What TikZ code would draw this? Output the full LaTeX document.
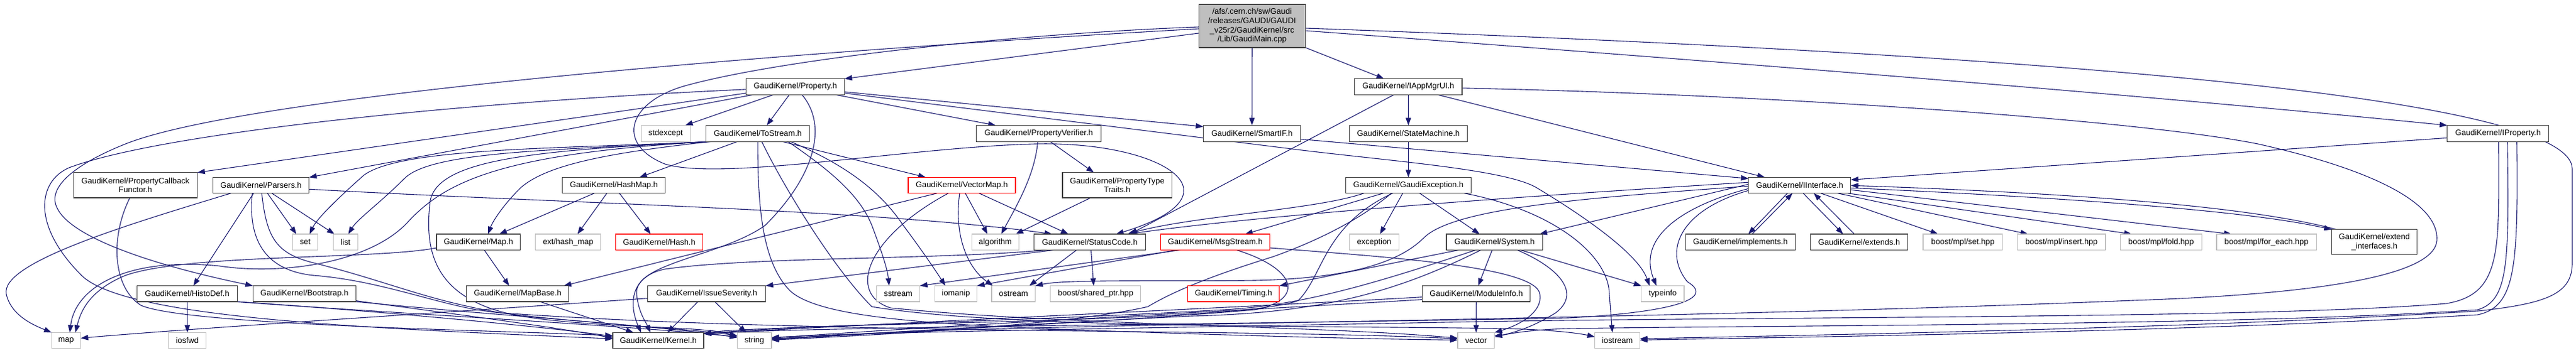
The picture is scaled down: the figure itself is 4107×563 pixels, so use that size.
\documentclass[tikz,border=0pt]{standalone}
\usepackage{fontspec}
\setmainfont{Liberation Sans}
\usetikzlibrary{arrows.meta}
\definecolor{edgecol}{HTML}{191970}
\definecolor{boxblack}{HTML}{404040}
\definecolor{boxgray}{HTML}{BFBFBF}
\definecolor{mainfill}{HTML}{BFBFBF}
\pgfdeclarelayer{bg}
\pgfdeclarelayer{edges}
\pgfsetlayers{bg,edges,main}
\newcommand{\nodefont}{\fontsize{12.8pt}{14.6pt}\selectfont}
\begin{document}
\begin{tikzpicture}[x=1pt,y=-1pt,
  box/.style={draw=boxblack, fill=white, line width=1.1pt, inner sep=0pt, outer sep=0pt, font=\nodefont, align=center, minimum height=25.4pt},
  gbox/.style={box, draw=boxgray},
  rbox/.style={box, draw=red},
  edg/.style={draw=edgecol, line width=1.1pt, -{Triangle[length=12pt,width=8.5pt]}},
]
\useasboundingbox (0,0) rectangle (4107,563);
\begin{pgfonlayer}{bg}
\fill[white] (0,0) rectangle (4107,563);
\end{pgfonlayer}

% ---------------- nodes ----------------
\node[box, fill=mainfill, minimum width=170pt, minimum height=69pt] (main) at (1996.2,41.5) {/afs/.cern.ch/sw/Gaudi\\/releases/GAUDI/GAUDI\\\_v25r2/GaudiKernel/src\\/Lib/GaudiMain.cpp};
\node[box, minimum width=157pt] (prop) at (1268,138.5) {GaudiKernel/Property.h};
\node[box, minimum width=171.4pt] (appmgr) at (2245.3,138.5) {GaudiKernel/IAppMgrUI.h};
\node[gbox, minimum width=78.5pt, minimum height=26pt] (stdexcept) at (1061.3,213.3) {stdexcept};
\node[box, minimum width=165.2pt, minimum height=26pt] (tostream) at (1208.1,213.3) {GaudiKernel/ToStream.h};
\node[box, minimum width=199pt, minimum height=26pt] (pverif) at (1656,213.3) {GaudiKernel/PropertyVerifier.h};
\node[box, minimum width=155pt, minimum height=26pt] (smartif) at (1996,213.3) {GaudiKernel/SmartIF.h};
\node[box, minimum width=188.4pt, minimum height=26pt] (statem) at (2245.4,213.3) {GaudiKernel/StateMachine.h};
\node[box, minimum width=162pt, minimum height=26pt] (iprop) at (3982.7,213.3) {GaudiKernel/IProperty.h};
\node[box, minimum width=197.7pt, minimum height=40.3pt] (pcf) at (215.9,295.8) {GaudiKernel/PropertyCallback\\Functor.h};
\node[box, minimum width=153.6pt] (parsers) at (416.1,296) {GaudiKernel/Parsers.h};
\node[box, minimum width=164.3pt] (hashmap) at (978.7,296) {GaudiKernel/HashMap.h};
\node[rbox, minimum width=171pt] (vmap) at (1533.5,296) {GaudiKernel/VectorMap.h};
\node[box, minimum width=174.5pt, minimum height=40.3pt] (ptt) at (1781.2,295.8) {GaudiKernel/PropertyType\\Traits.h};
\node[box, minimum width=200pt] (gexc) at (2245.4,296) {GaudiKernel/GaudiException.h};
\node[box, minimum width=163pt] (iint) at (2869.3,296) {GaudiKernel/IInterface.h};
\node[gbox, minimum width=40.2pt] (set) at (486.6,386.7) {set};
\node[gbox, minimum width=39.3pt] (list) at (550.9,386.7) {list};
\node[box, minimum width=133.6pt] (maph) at (762.8,386.7) {GaudiKernel/Map.h};
\node[gbox, minimum width=104pt] (exthash) at (905.7,386.7) {ext/hash\_map};
\node[rbox, minimum width=139.3pt] (hash) at (1051,386.7) {GaudiKernel/Hash.h};
\node[gbox, minimum width=75pt] (algo) at (1586.8,386.7) {algorithm};
\node[box, minimum width=178.1pt] (scode) at (1737.5,386.7) {GaudiKernel/StatusCode.h};
\node[rbox, minimum width=174.5pt] (msgs) at (1937.5,386.7) {GaudiKernel/MsgStream.h};
\node[gbox, minimum width=79.4pt] (except) at (2190.9,386.7) {exception};
\node[box, minimum width=153.6pt] (system) at (2382.8,386.7) {GaudiKernel/System.h};
\node[box, minimum width=174.7pt] (impl) at (2774.7,386.7) {GaudiKernel/implements.h};
\node[box, minimum width=155pt] (extends) at (2964,386.7) {GaudiKernel/extends.h};
\node[gbox, minimum width=126.8pt] (mset) at (3129.4,386.7) {boost/mpl/set.hpp};
\node[gbox, minimum width=140.6pt] (minsert) at (3286.7,386.7) {boost/mpl/insert.hpp};
\node[gbox, minimum width=129.3pt] (mfold) at (3445.4,386.7) {boost/mpl/fold.hpp};
\node[gbox, minimum width=159.1pt] (mforeach) at (3613.5,386.7) {boost/mpl/for\_each.hpp};
\node[box, minimum width=136.2pt, minimum height=40pt] (extif) at (3785.5,386.7) {GaudiKernel/extend\\\_interfaces.h};
\node[box, minimum width=160.3pt] (histo) at (298.4,469.3) {GaudiKernel/HistoDef.h};
\node[box, minimum width=164.3pt] (boot) at (485.3,469.3) {GaudiKernel/Bootstrap.h};
\node[box, minimum width=163pt] (mapbase) at (825.3,469.3) {GaudiKernel/MapBase.h};
\node[box, minimum width=188pt] (issue) at (1126.7,469.3) {GaudiKernel/IssueSeverity.h};
\node[gbox, minimum width=69.2pt] (sstream) at (1432.1,469.3) {sstream};
\node[gbox, minimum width=67.4pt] (iomanip) at (1524.1,469.3) {iomanip};
\node[gbox, minimum width=69.6pt] (ostream) at (1615.8,469.3) {ostream};
\node[gbox, minimum width=144.2pt] (sptr) at (1746.8,469.3) {boost/shared\_ptr.hpp};
\node[rbox, minimum width=146.4pt] (timing) at (1966.7,469.3) {GaudiKernel/Timing.h};
\node[box, minimum width=172pt] (modinfo) at (2353.7,469.3) {GaudiKernel/ModuleInfo.h};
\node[gbox, minimum width=68.2pt] (typeinfo) at (2650.9,469.3) {typeinfo};
\node[gbox, minimum width=46.4pt] (mapn) at (105.4,544) {map};
\node[gbox, minimum width=59.8pt] (iosfwd) at (298.7,544) {iosfwd};
\node[box, minimum width=145pt] (kernel) at (1049.5,544) {GaudiKernel/Kernel.h};
\node[gbox, minimum width=54.5pt] (string) at (1202.7,544) {string};
\node[gbox, minimum width=58.9pt] (vector) at (2353.4,544) {vector};
\node[gbox, minimum width=71.9pt] (iostream) at (2578.6,544) {iostream};

% ---------------- edges ----------------
\begin{pgfonlayer}{edges}
% main
\draw[edg] ([yshift=-46pt]main.north west) -- (prop.north east);
\draw[edg] (main.south) -- (smartif.north);
\draw[edg] (main.south east) -- ([xshift=47pt]appmgr.north west);
\draw[edg] ([yshift=-42pt]main.north east) .. controls (2700,95) and (3400,150) .. (iprop.north west);
\draw[edg] ([yshift=-38pt]main.north east) .. controls (3200,85) and (4101,150) .. (4101,270) -- (4101,420) .. controls (4101,470) and (4060,485) .. (3950,497) .. controls (3500,525) and (2900,535) .. ([yshift=-10pt]iostream.north east);
\draw[edg] ([yshift=-39pt]main.north west) .. controls (1300,80) and (400,150) .. (200,230) .. controls (130,258) and (75,295) .. (90,330) .. controls (110,380) and (250,425) .. (boot.north west);
\draw[edg] ([yshift=-36pt]main.north west) .. controls (1600,55) and (1250,95) .. (1100,135) .. controls (1000,160) and (980,230) .. (1060,262) .. controls (1150,290) and (1450,235) .. (1650,230) .. controls (1850,225) and (1990,310) .. ([xshift=131pt]scode.north west);
% Property.h
\draw[edg] ([xshift=44pt]prop.south west) -- ([xshift=-8pt]stdexcept.north east);
\draw[edg] ([xshift=69pt]prop.south west) -- ([xshift=97pt]tostream.north west);
\draw[edg] ([xshift=142pt]prop.south west) -- ([xshift=31pt]pverif.north west);
\draw[edg] ([yshift=-21pt]prop.north east) -- ([yshift=-2pt]smartif.north west);
\draw[edg] ([yshift=-23pt]prop.north east) -- (2060,238) .. controls (2210,257) and (2400,270) .. (2450,300) .. controls (2500,330) and (2610,400) .. ([xshift=13pt]typeinfo.north west);
\draw[edg] ([yshift=-23pt]prop.north west) -- (pcf.north east);
\draw[edg] ([xshift=12pt]prop.south west) -- (parsers.north east);
\draw[edg] ([yshift=-17pt]prop.north west) .. controls (700,165) and (250,215) .. (110,268) .. controls (60,290) and (50,360) .. (130,440) .. controls (200,510) and (600,525) .. ([yshift=-10pt]kernel.north west);
\draw[edg] ([xshift=89pt]prop.south west) .. controls (1320,200) and (1300,280) .. (1220,360) .. controls (1150,410) and (1010,420) .. (1015,470) .. controls (1018,500) and (1030,515) .. ([xshift=60pt]kernel.north west);
% ToStream.h
\draw[edg] ([xshift=2pt]tostream.south west) .. controls (900,238) and (640,235) .. (580,280) .. controls (535,320) and (505,350) .. ([xshift=27pt]set.north west);
\draw[edg] ([xshift=4pt]tostream.south west) .. controls (900,240) and (690,240) .. (645,285) .. controls (605,325) and (570,350) .. ([xshift=24pt]list.north west);
\draw[edg] ([xshift=6pt]tostream.south west) .. controls (800,245) and (710,290) .. (650,355) .. controls (590,420) and (450,440) .. (350,425) .. controls (200,410) and (120,460) .. ([xshift=29pt]mapn.north west);
\draw[edg] ([xshift=8pt]tostream.south west) .. controls (960,245) and (870,265) .. (830,300) .. controls (800,330) and (785,355) .. ([xshift=82pt]maph.north west);
\draw[edg] ([xshift=10pt]tostream.south west) .. controls (850,240) and (700,255) .. (686,320) .. controls (676,400) and (690,480) .. (830,505) .. controls (950,525) and (1120,520) .. ([yshift=-6pt]string.north west);
\draw[edg] ([xshift=50pt]tostream.south west) -- ([xshift=123pt]hashmap.north west);
\draw[edg] ([xshift=122pt]tostream.south west) -- ([xshift=28pt]vmap.north west);
\draw[edg] ([xshift=131pt]tostream.south west) .. controls (1320,270) and (1370,310) .. (1390,360) .. controls (1405,400) and (1415,430) .. ([xshift=20pt]sstream.north west);
\draw[edg] ([xshift=135pt]tostream.south west) .. controls (1340,260) and (1400,300) .. (1440,360) .. controls (1470,400) and (1490,430) .. ([xshift=17pt]iomanip.north west);
\draw[edg] (tostream.south) .. controls (1208,330) and (1215,420) .. (1260,465) .. controls (1310,510) and (1500,520) .. (1800,530) .. controls (2000,537) and (2200,542) .. ([yshift=-12pt]vector.north west);
\draw[edg] ([xshift=89pt]tostream.south west) .. controls (1250,300) and (1330,430) .. (1390,490) .. controls (1600,525) and (2100,520) .. (2400,525) .. controls (2480,527) and (2520,533) .. ([yshift=-7pt]iostream.north west);
% PropertyCallbackFunctor.h
\draw[edg] ([xshift=90pt]pcf.south west) .. controls (175,380) and (180,460) .. (225,488) .. controls (300,520) and (800,528) .. ([yshift=-5pt]kernel.north west);
% Parsers.h
\draw[edg] ([xshift=29pt]parsers.south west) .. controls (200,360) and (0,420) .. (10,470) .. controls (18,505) and (55,520) .. (mapn.north west);
\draw[edg] ([xshift=65pt]parsers.south west) -- ([xshift=90pt]histo.north west);
\draw[edg] ([xshift=87pt]parsers.south west) -- ([xshift=6pt]set.north west);
\draw[edg] ([xshift=94pt]parsers.south west) -- ([xshift=2pt]list.north west);
\draw[edg] ([yshift=-19pt]parsers.north east) .. controls (900,325) and (1400,335) .. ([xshift=29pt]scode.north west);
\draw[edg] ([xshift=63pt]parsers.south west) .. controls (395,380) and (420,432) .. (500,440) .. controls (600,448) and (680,480) .. (760,495) .. controls (900,515) and (1100,525) .. ([yshift=-5pt]string.north west);
\draw[edg] ([xshift=78pt]parsers.south west) .. controls (425,380) and (440,405) .. (500,420) .. controls (620,450) and (680,480) .. (800,500) .. controls (1300,535) and (2000,525) .. ([yshift=-10pt]vector.north west);
% HistoDef.h
\draw[edg] (histo.south) -- (iosfwd.north);
\draw[edg] (histo.south east) .. controls (600,497) and (850,520) .. ([yshift=-6pt]kernel.north west);
\draw[edg] ([xshift=-4pt]histo.south east) .. controls (650,502) and (1000,520) .. ([yshift=-7pt]string.north west);
% Bootstrap.h
\draw[edg] ([yshift=-24pt]boot.north east) .. controls (750,505) and (900,525) .. ([yshift=-9pt]kernel.north west);
\draw[edg] (boot.south east) .. controls (800,505) and (1050,520) .. ([yshift=-8pt]string.north west);
% HashMap.h
\draw[edg] ([xshift=51pt]hashmap.south west) -- ([xshift=100pt]maph.north west);
\draw[edg] ([xshift=71pt]hashmap.south west) -- ([xshift=67pt]exthash.north west);
\draw[edg] ([xshift=91pt]hashmap.south west) -- ([xshift=56pt]hash.north west);
% Map.h
\draw[edg] ([xshift=76pt]maph.south west) -- ([xshift=68pt]mapbase.north west);
\draw[edg] ([yshift=-22pt]maph.north west) .. controls (600,415) and (300,405) .. (200,440) .. controls (140,465) and (128,500) .. ([xshift=38pt]mapn.north west);
% MapBase.h
\draw[edg] ([xshift=117pt]mapbase.south west) -- ([xshift=33pt]kernel.north west);
% VectorMap.h
\draw[edg] ([xshift=46pt]vmap.south west) -- ([xshift=155pt]mapbase.north west);
\draw[edg] ([xshift=64pt]vmap.south west) .. controls (1380,380) and (1350,470) .. (1420,492) .. controls (1700,520) and (2100,520) .. ([yshift=-9pt]vector.north west);
\draw[edg] ([xshift=82pt]vmap.south west) .. controls (1520,380) and (1545,430) .. ([xshift=2pt]ostream.north west);
\draw[edg] ([xshift=91pt]vmap.south west) -- ([xshift=25pt]algo.north west);
\draw[edg] ([xshift=113pt]vmap.south west) -- ([xshift=55pt]scode.north west);
% PropertyVerifier.h
\draw[edg] ([xshift=98pt]pverif.south west) .. controls (1650,280) and (1620,330) .. ([xshift=47pt]algo.north west);
\draw[edg] ([xshift=118pt]pverif.south west) -- ([xshift=50pt]ptt.north west);
% PropertyTypeTraits.h
\draw[edg] ([xshift=45pt]ptt.south west) -- ([xshift=70pt]algo.north west);
% SmartIF.h
\draw[edg] ([yshift=-22pt]smartif.north east) -- ([yshift=-2pt]iint.north west);
% IAppMgrUI.h
\draw[edg] (appmgr.south) -- (statem.north);
\draw[edg] ([xshift=63pt]appmgr.south west) -- ([xshift=153pt]scode.north west);
\draw[edg] ([xshift=132pt]appmgr.south west) -- ([xshift=26pt]iint.north west);
\draw[edg] ([yshift=-15pt]appmgr.north east) .. controls (2800,150) and (3400,190) .. (3600,230) .. controls (3800,275) and (3890,330) .. (3885,385) .. controls (3880,440) and (3700,470) .. (3400,480) .. controls (2800,505) and (2000,515) .. (1600,525) .. controls (1400,530) and (1300,540) .. ([yshift=-10pt]string.north east);
% StateMachine.h
\draw[edg] (statem.south) -- (gexc.north);
% GaudiException.h
\draw[edg] ([xshift=29pt]gexc.south west) .. controls (2100,335) and (1900,345) .. ([xshift=-29pt]scode.north east);
\draw[edg] ([xshift=60pt]gexc.south west) -- ([xshift=135pt]msgs.north west);
\draw[edg] ([xshift=91pt]gexc.south west) -- ([xshift=49pt]except.north west);
\draw[edg] ([xshift=118pt]gexc.south west) -- ([xshift=53pt]system.north west);
\draw[edg] ([xshift=189pt]gexc.south west) .. controls (2470,335) and (2555,400) .. (2565,460) -- ([xshift=28pt]iostream.north west);
\draw[edg] ([xshift=73pt]gexc.south west) .. controls (2170,350) and (2100,385) .. (2030,410) .. controls (1950,435) and (1880,460) .. (1830,490) .. controls (1700,520) and (1400,535) .. ([yshift=-12pt]string.north east);
\draw[edg] ([xshift=75pt]gexc.south west) .. controls (2110,360) and (2110,440) .. (2070,480) .. controls (2000,510) and (1500,515) .. (1300,522) .. controls (1200,526) and (1150,528) .. ([yshift=-2pt]kernel.north east);
% System.h
\draw[edg] ([xshift=20pt]system.south west) -- (timing.north east);
\draw[edg] ([xshift=47pt]system.south west) .. controls (2200,450) and (2080,488) .. (1950,495) .. controls (1600,515) and (1300,518) .. ([yshift=-2pt]kernel.north east);
\draw[edg] ([xshift=55pt]system.south west) .. controls (2220,470) and (2100,500) .. (1900,505) .. controls (1600,520) and (1350,535) .. ([yshift=-10pt]string.north east);
\draw[edg] ([xshift=73pt]system.south west) -- ([xshift=89pt]modinfo.north west);
\draw[edg] ([xshift=113pt]system.south west) .. controls (2490,430) and (2520,470) .. (2480,500) .. controls (2440,525) and (2410,532) .. ([yshift=-7pt]vector.north east);
\draw[edg] ([xshift=118pt]system.south west) -- (typeinfo.north west);
% ModuleInfo.h
\draw[edg] (modinfo.south) -- (vector.north);
\draw[edg] ([yshift=-18pt]modinfo.north west) .. controls (2000,490) and (1500,512) .. ([yshift=-2pt]kernel.north east);
\draw[edg] ([yshift=-22pt]modinfo.north west) .. controls (2000,495) and (1500,520) .. ([yshift=-9pt]string.north east);
% MsgStream.h
\draw[edg] ([xshift=32pt]msgs.south west) -- (sstream.north east);
\draw[edg] ([xshift=26pt]msgs.south west) -- (iomanip.north east);
\draw[edg] ([xshift=121pt]msgs.south west) .. controls (2070,430) and (2080,480) .. (2000,495) .. controls (1700,520) and (1400,530) .. ([yshift=-11pt]string.north east);
\draw[edg] ([yshift=-22pt]msgs.north east) .. controls (2200,410) and (2450,425) .. (2455,470) .. controls (2460,500) and (2420,520) .. (vector.north east);
% StatusCode.h
\draw[edg] ([xshift=68pt]scode.south west) -- ([xshift=60pt]ostream.north west);
\draw[edg] ([xshift=91pt]scode.south west) -- ([xshift=69pt]sptr.north west);
\draw[edg] ([xshift=32pt]scode.south west) -- (issue.north east);
\draw[edg] ([xshift=20pt]scode.south west) .. controls (1500,415) and (1200,410) .. (1060,430) .. controls (1010,440) and (1000,480) .. ([xshift=45pt]kernel.north west);
% IssueSeverity.h
\draw[edg] ([xshift=80pt]issue.south west) -- ([xshift=87pt]kernel.north west);
\draw[edg] ([xshift=107pt]issue.south west) -- ([xshift=14pt]string.north west);
\draw[edg] ([yshift=-20pt]issue.north west) .. controls (700,500) and (300,525) .. ([yshift=-9pt]mapn.north east);
% IInterface.h
\draw[edg] ([xshift=62pt]iint.south west) -- ([xshift=100pt]impl.north west);
\draw[edg] ([xshift=106pt]impl.north west) -- ([xshift=70pt]iint.south west);
\draw[edg] ([xshift=87pt]iint.south west) -- ([xshift=52pt]extends.north west);
\draw[edg] ([xshift=70pt]extends.north west) -- ([xshift=104pt]iint.south west);
\draw[edg] ([xshift=115pt]iint.south west) -- ([xshift=24pt]mset.north west);
\draw[edg] ([xshift=142pt]iint.south west) -- ([xshift=17pt]minsert.north west);
\draw[edg] ([xshift=-5pt]iint.south east) -- ([xshift=18pt]mfold.north west);
\draw[edg] ([yshift=-20pt]iint.north east) -- ([xshift=24pt]mforeach.north west);
\draw[edg] ([yshift=-17pt]iint.north east) .. controls (3350,318) and (3600,340) .. (extif.north west);
\draw[edg] ([xshift=8pt]extif.north west) .. controls (3600,333) and (3350,310) .. ([yshift=-13pt]iint.north east);
\draw[edg] ([yshift=-11pt]iint.north west) -- ([xshift=-5pt]system.north east);
\draw[edg] ([yshift=-8pt]iint.north west) .. controls (2400,315) and (2000,345) .. ([xshift=-28pt]scode.north east);
\draw[edg] ([yshift=-14pt]iint.north west) .. controls (2550,315) and (2320,330) .. (2270,380) .. controls (2230,420) and (2150,445) .. (2000,448) .. controls (1850,450) and (1700,446) .. (ostream.north east);
\draw[edg] ([yshift=-18pt]iint.north west) .. controls (2680,330) and (2610,380) .. ([xshift=24pt]typeinfo.north west);
\draw[edg] ([yshift=-21pt]iint.north west) .. controls (2680,335) and (2650,400) .. (2690,450) .. controls (2740,480) and (2650,500) .. (2500,508) .. controls (2000,518) and (1300,522) .. ([yshift=-2pt]kernel.north east);
% IProperty.h
\draw[edg] ([yshift=-20pt]iprop.north west) -- ([yshift=-4pt]iint.north east);
\draw[edg] ([xshift=82pt]iprop.south west) .. controls (3984,400) and (3990,470) .. (3900,485) .. controls (3600,510) and (2800,505) .. (2300,515) .. controls (1800,525) and (1400,530) .. ([yshift=-8pt]string.north east);
\draw[edg] ([xshift=96pt]iprop.south west) .. controls (4000,420) and (4000,480) .. (3950,495) .. controls (3600,520) and (2800,520) .. (2500,525) .. controls (2430,527) and (2400,535) .. ([yshift=-5pt]vector.north east);
\draw[edg] ([xshift=111pt]iprop.south west) .. controls (4015,430) and (4010,490) .. (3950,503) .. controls (3500,530) and (2900,538) .. ([yshift=-12pt]iostream.north east);
\end{pgfonlayer}
\end{tikzpicture}
\end{document}
